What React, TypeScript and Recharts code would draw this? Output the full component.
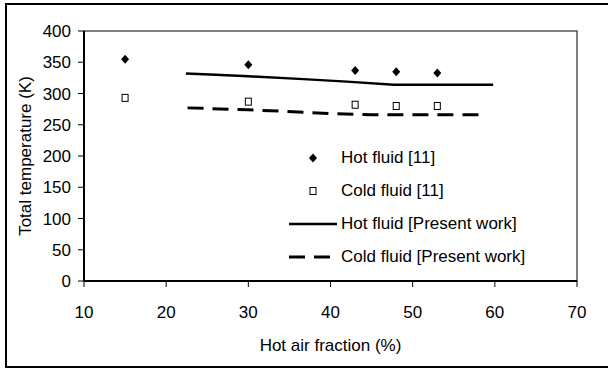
import {
  ComposedChart,
  Line,
  Scatter,
  XAxis,
  YAxis,
  Legend,
  ReferenceArea,
} from "recharts";

// ---------------------------------------------------------------------------
// Data
// ---------------------------------------------------------------------------

const expFraction = [15, 30, 43, 48, 53];
const hotExp = [355, 346, 337, 335, 333];
const coldExp = [293, 287, 282, 280, 280];

const hotModelX = [22.4, 26, 30, 36.7, 42, 47.7, 53, 59.8];
const hotModelY = [332, 330, 327.5, 323, 319, 314, 314, 314];

const coldModelX = [22.6, 30, 36.7, 40, 45, 52, 59];
const coldModelY = [277, 274, 270, 268, 266, 266, 266];

const xTicks = [10, 20, 30, 40, 50, 60, 70];
const yTicks = [0, 50, 100, 150, 200, 250, 300, 350, 400];

const seriesNames = [
  "Hot fluid [11]",
  "Cold fluid [11]",
  "Hot fluid [Present work]",
  "Cold fluid [Present work]",
];

const hotExpData = expFraction.map((x, i) => ({ x, y: hotExp[i] }));
const coldExpData = expFraction.map((x, i) => ({ x, y: coldExp[i] }));
const hotModelData = hotModelX.map((x, i) => ({ x, y: hotModelY[i] }));
const coldModelData = coldModelX.map((x, i) => ({ x, y: coldModelY[i] }));

// ---------------------------------------------------------------------------
// Styles / shapes
// ---------------------------------------------------------------------------

const FONT = "'Liberation Sans', Arial, sans-serif";
const tickStyle = { fontSize: 17, fill: "#000", fontFamily: FONT };

const Diamond = ({ cx, cy }: { cx?: number; cy?: number }) => {
  if (cx == null || cy == null) return null;
  return (
    <path
      d={`M${cx},${cy - 4.5} L${cx + 4},${cy} L${cx},${cy + 4.5} L${cx - 4},${cy} Z`}
      fill="#000"
    />
  );
};

const Square = ({ cx, cy }: { cx?: number; cy?: number }) => {
  if (cx == null || cy == null) return null;
  return (
    <rect
      x={cx - 3}
      y={cy - 3.5}
      width={6}
      height={7}
      fill="#fff"
      stroke="#000"
      strokeWidth={1}
    />
  );
};

function LegendIcon({ index }: { index: number }) {
  return (
    <svg width={48} height={14} style={{ display: "block" }}>
      {index === 0 && <Diamond cx={24} cy={7} />}
      {index === 1 && <Square cx={24} cy={7} />}
      {index === 2 && (
        <line x1={0} y1={7} x2={48} y2={7} stroke="#000" strokeWidth={2.5} />
      )}
      {index === 3 && (
        <line
          x1={0}
          y1={7}
          x2={48}
          y2={7}
          stroke="#000"
          strokeWidth={3}
          strokeDasharray="16 9"
        />
      )}
    </svg>
  );
}

function LegendContent() {
  return (
    <div style={{ fontFamily: FONT, fontSize: 17, color: "#000" }}>
      {seriesNames.map((name, i) => (
        <div
          key={name}
          style={{ display: "flex", alignItems: "center", height: 33 }}
        >
          <LegendIcon index={i} />
          <span style={{ marginLeft: 4, whiteSpace: "nowrap" }}>{name}</span>
        </div>
      ))}
    </div>
  );
}

// ---------------------------------------------------------------------------
// Component
// ---------------------------------------------------------------------------

export default function App() {
  return (
    <div
      style={{
        position: "absolute",
        left: 0,
        top: 0,
        width: 608,
        height: 369,
        background: "#fff",
        overflow: "hidden",
      }}
    >
      <div
        style={{
          position: "absolute",
          left: 5,
          top: 3,
          width: 612,
          height: 365,
          border: "2px solid #000",
          boxSizing: "border-box",
        }}
      />
      <ComposedChart
        width={608}
        height={369}
        margin={{ top: 31, right: 31, bottom: 18, left: 0 }}
        style={{ position: "absolute", left: 0, top: 0 }}
      >
        <ReferenceArea
          x1={10}
          x2={70}
          y1={0}
          y2={400}
          fill="none"
          stroke="#555"
          strokeWidth={1.5}
        />
        <XAxis
          type="number"
          dataKey="x"
          domain={[10, 70]}
          ticks={xTicks}
          allowDataOverflow
          height={70}
          tickSize={6}
          tickMargin={19}
          tick={tickStyle}
          axisLine={{ stroke: "#000", strokeWidth: 2 }}
          tickLine={{ stroke: "#000", strokeWidth: 1 }}
          label={{
            value: "Hot air fraction (%)",
            position: "insideBottom",
            offset: 0,
            style: { fontSize: 17, fill: "#000", fontFamily: FONT },
          }}
        />
        <YAxis
          type="number"
          dataKey="y"
          domain={[0, 400]}
          ticks={yTicks}
          allowDataOverflow
          width={84}
          tickSize={6}
          tickMargin={7}
          tick={tickStyle}
          axisLine={{ stroke: "#000", strokeWidth: 2 }}
          tickLine={{ stroke: "#000", strokeWidth: 1 }}
          label={{
            value: "Total temperature (K)",
            angle: -90,
            position: "insideLeft",
            offset: 25,
            style: {
              fontSize: 17,
              fill: "#000",
              fontFamily: FONT,
              textAnchor: "middle",
            },
          }}
        />
        <Line
          data={hotModelData}
          dataKey="y"
          name={seriesNames[2]}
          type="linear"
          stroke="#000"
          strokeWidth={2.5}
          dot={false}
          activeDot={false}
          isAnimationActive={false}
        />
        <Line
          data={coldModelData}
          dataKey="y"
          name={seriesNames[3]}
          type="linear"
          stroke="#000"
          strokeWidth={3}
          strokeDasharray="16 9"
          dot={false}
          activeDot={false}
          isAnimationActive={false}
        />
        <Scatter
          data={hotExpData}
          dataKey="y"
          name={seriesNames[0]}
          shape={Diamond}
          isAnimationActive={false}
        />
        <Scatter
          data={coldExpData}
          dataKey="y"
          name={seriesNames[1]}
          shape={Square}
          isAnimationActive={false}
        />
        <Legend
          layout="vertical"
          align="center"
          verticalAlign="middle"
          wrapperStyle={{ left: 289, top: 141, width: 300 }}
          content={LegendContent}
        />
      </ComposedChart>
    </div>
  );
}
